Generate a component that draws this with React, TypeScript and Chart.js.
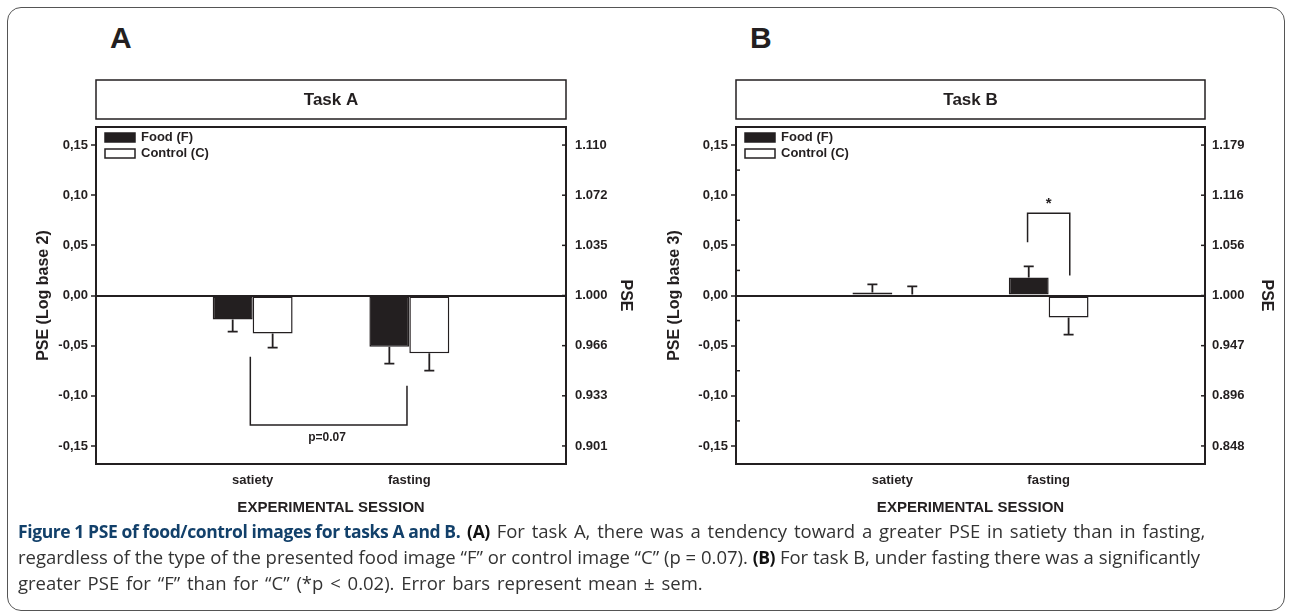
import React, { useEffect, useRef } from 'react';
import { Chart, registerables } from 'chart.js';

Chart.register(...registerables);

// ---------- data ----------
const CATEGORIES = ['satiety', 'fasting'];
const CATEGORY_POS = [1, 2];
const SERIES = ['Food (F)', 'Control (C)'];

const TASK_A_FOOD = [-0.024, -0.051];
const TASK_A_FOOD_SEM = [0.012, 0.017];
const TASK_A_CONTROL = [-0.038, -0.0575];
const TASK_A_CONTROL_SEM = [0.014, 0.0175];

const TASK_B_FOOD = [0.003, 0.018];
const TASK_B_FOOD_SEM = [0.008, 0.011];
const TASK_B_CONTROL = [0.001, -0.022];
const TASK_B_CONTROL_SEM = [0.008, 0.017];

const Y_TICKS = [0.15, 0.1, 0.05, 0, -0.05, -0.1, -0.15];
const Y_TICK_LABELS = ['0,15', '0,10', '0,05', '0,00', '-0,05', '-0,10', '-0,15'];
const PSE_LABELS_A = ['1.110', '1.072', '1.035', '1.000', '0.966', '0.933', '0.901'];
const PSE_LABELS_B = ['1.179', '1.116', '1.056', '1.000', '0.947', '0.896', '0.848'];
const MINOR_TICKS_B = [0.125, 0.075, 0.025, -0.025, -0.075, -0.125];

// significance brackets: [x left, y left end, x right, y right end, y bar]
const BRACKET_A = [0.985, -0.061, 1.985, -0.09, -0.129];
const BRACKET_A_LABEL = ['p=0.07', 1.475, -0.142];
const BRACKET_B = [1.865, 0.053, 2.135, 0.02, 0.082];
const BRACKET_B_LABEL = ['*', 2.0, 0.091];

const INK = '#231f20';
const FONT = '"Liberation Sans", Arial, Helvetica, sans-serif';

const findIdx = (v: number) => Y_TICKS.findIndex((t) => Math.abs(t - v) < 1e-9);

const decoPlugin = {
  id: 'deco',
  afterDatasetsDraw(chart: any) {
    const ctx = chart.ctx;
    const ys = chart.scales.y;
    ctx.save();
    ctx.strokeStyle = INK;
    ctx.lineWidth = 1.8;
    chart.data.datasets.forEach((ds: any, di: number) => {
      const meta = chart.getDatasetMeta(di);
      meta.data.forEach((bar: any, i: number) => {
        const v = ds.data[i].y;
        const s = ds.sem[i];
        const end = v >= 0 ? v + s : v - s;
        const y1 = ys.getPixelForValue(end);
        ctx.beginPath();
        ctx.moveTo(bar.x, bar.y);
        ctx.lineTo(bar.x, y1);
        ctx.moveTo(bar.x - 5, y1);
        ctx.lineTo(bar.x + 5, y1);
        ctx.stroke();
      });
    });
    ctx.restore();
  },
  afterDraw(chart: any, _args: any, opts: any) {
    const ctx = chart.ctx;
    const a = chart.chartArea;
    const xs = chart.scales.x;
    const ys = chart.scales.y;
    ctx.save();
    ctx.strokeStyle = INK;
    ctx.fillStyle = INK;

    // frame
    ctx.lineWidth = 2;
    ctx.strokeRect(a.left, a.top, a.right - a.left, a.bottom - a.top);

    // task title box
    ctx.lineWidth = 1.5;
    ctx.strokeRect(a.left, a.top - 47, a.right - a.left, 39);
    ctx.font = `bold 17px ${FONT}`;
    ctx.textAlign = 'center';
    ctx.textBaseline = 'middle';
    ctx.fillText(opts.title, (a.left + a.right) / 2, a.top - 27);

    // right axis inward ticks
    ctx.lineWidth = 1.5;
    Y_TICKS.forEach((t) => {
      const py = ys.getPixelForValue(t);
      ctx.beginPath();
      ctx.moveTo(a.right - 4, py);
      ctx.lineTo(a.right, py);
      ctx.stroke();
    });
    // minor inward ticks on left axis
    (opts.minor || []).forEach((t: number) => {
      const py = ys.getPixelForValue(t);
      ctx.beginPath();
      ctx.moveTo(a.left, py);
      ctx.lineTo(a.left + 4, py);
      ctx.stroke();
    });

    // legend
    const lx = a.left + 9;
    chart.data.datasets.forEach((ds: any, di: number) => {
      const ty = a.top + 6 + di * 16;
      ctx.fillStyle = ds.backgroundColor;
      ctx.fillRect(lx, ty, 30, 9);
      ctx.lineWidth = 1.5;
      ctx.strokeStyle = INK;
      ctx.strokeRect(lx, ty, 30, 9);
      ctx.fillStyle = INK;
      ctx.font = `bold 13px ${FONT}`;
      ctx.textAlign = 'left';
      ctx.textBaseline = 'middle';
      ctx.fillText(ds.label, lx + 36, ty + 4.5);
    });

    // bracket
    const b = opts.bracket;
    ctx.lineWidth = 1.5;
    ctx.strokeStyle = INK;
    ctx.beginPath();
    ctx.moveTo(xs.getPixelForValue(b[0]), ys.getPixelForValue(b[1]));
    ctx.lineTo(xs.getPixelForValue(b[0]), ys.getPixelForValue(b[4]));
    ctx.lineTo(xs.getPixelForValue(b[2]), ys.getPixelForValue(b[4]));
    ctx.lineTo(xs.getPixelForValue(b[2]), ys.getPixelForValue(b[3]));
    ctx.stroke();
    const bl = opts.bracketLabel;
    ctx.font = `bold ${bl[0] === '*' ? 15 : 12}px ${FONT}`;
    ctx.textAlign = 'center';
    ctx.textBaseline = 'middle';
    ctx.fillStyle = INK;
    ctx.fillText(bl[0], xs.getPixelForValue(bl[1]), ys.getPixelForValue(bl[2]));
    ctx.restore();
  },
};

type PanelProps = {
  left: number;
  title: string;
  yTitle: string;
  food: number[];
  foodSem: number[];
  control: number[];
  controlSem: number[];
  pse: string[];
  minor?: number[];
  bracket: number[];
  bracketLabel: any[];
  leftWidth: number;
  leftTitlePad: number;
  rightWidth: number;
  rightTitlePad: number;
  rightTickPad: number;
};

function Panel(p: PanelProps) {
  const ref = useRef<HTMLCanvasElement | null>(null);
  useEffect(() => {
    if (!ref.current) return;
    const tickFont = { family: FONT, size: 13, weight: 'bold' as const };
    const chart = new Chart(ref.current, {
      type: 'bar',
      data: {
        datasets: [
          {
            label: SERIES[0],
            data: CATEGORY_POS.map((x, i) => ({ x, y: p.food[i] })),
            backgroundColor: INK,
            borderColor: INK,
            borderWidth: 1.5,
            borderSkipped: false,
            sem: p.foodSem,
          } as any,
          {
            label: SERIES[1],
            data: CATEGORY_POS.map((x, i) => ({ x, y: p.control[i] })),
            backgroundColor: '#ffffff',
            borderColor: INK,
            borderWidth: 1.5,
            borderSkipped: false,
            sem: p.controlSem,
          } as any,
        ],
      },
      options: {
        animation: false,
        responsive: false,
        maintainAspectRatio: false,
        layout: { padding: { top: 57, left: 0, right: 0, bottom: 0 } },
        datasets: { bar: { categoryPercentage: 0.51, barPercentage: 1 } },
        plugins: {
          legend: { display: false },
          tooltip: { enabled: false },
          deco: { title: p.title, minor: p.minor, bracket: p.bracket, bracketLabel: p.bracketLabel },
        } as any,
        scales: {
          x: {
            type: 'linear',
            offset: false,
            min: 0,
            max: 3,
            afterBuildTicks: (s: any) => {
              s.ticks = CATEGORY_POS.map((v) => ({ value: v }));
            },
            afterFit: (s: any) => {
              s.height = 66;
            },
            ticks: {
              callback: (v: any) => CATEGORIES[CATEGORY_POS.indexOf(Number(v))],
              font: tickFont,
              color: INK,
              padding: 9,
              maxRotation: 0,
              autoSkip: false,
            },
            grid: { display: false, drawTicks: false, offset: false },
            border: { display: false },
            title: {
              display: true,
              text: 'EXPERIMENTAL SESSION',
              font: { family: FONT, size: 15, weight: 'bold' },
              color: INK,
              padding: { top: 0, bottom: 13 },
            },
          },
          y: {
            position: 'left',
            min: -0.168,
            max: 0.168,
            afterBuildTicks: (s: any) => {
              s.ticks = Y_TICKS.map((v) => ({ value: v }));
            },
            afterFit: (s: any) => {
              s.width = p.leftWidth;
            },
            ticks: {
              callback: (v: any) => Y_TICK_LABELS[findIdx(Number(v))],
              font: tickFont,
              color: INK,
              padding: 3,
              autoSkip: false,
            },
            grid: {
              color: (c: any) => (c.tick && Math.abs(c.tick.value) < 1e-9 ? INK : 'rgba(0,0,0,0)'),
              lineWidth: 2,
              tickColor: INK,
              tickWidth: 1.5,
              tickLength: 5,
              drawTicks: true,
            },
            border: { display: false },
            title: {
              display: true,
              text: p.yTitle,
              font: { family: FONT, size: 16, weight: 'bold' },
              color: INK,
              padding: { top: p.leftTitlePad, bottom: 0 },
            },
          },
          y2: {
            position: 'right',
            min: -0.168,
            max: 0.168,
            afterBuildTicks: (s: any) => {
              s.ticks = Y_TICKS.map((v) => ({ value: v }));
            },
            afterFit: (s: any) => {
              s.width = p.rightWidth;
            },
            ticks: {
              callback: (v: any) => p.pse[findIdx(Number(v))],
              font: tickFont,
              color: INK,
              padding: p.rightTickPad,
              autoSkip: false,
            },
            grid: { drawOnChartArea: false, drawTicks: false },
            border: { display: false },
            title: {
              display: true,
              text: 'PSE',
              font: { family: FONT, size: 16, weight: 'bold' },
              color: INK,
              padding: { top: p.rightTitlePad, bottom: 0 },
            },
          },
        } as any,
      },
      plugins: [decoPlugin],
    });
    return () => chart.destroy();
  }, []);
  return (
    <canvas
      ref={ref}
      width={645}
      height={460}
      style={{ position: 'absolute', left: p.left, top: 70, width: 645, height: 460 }}
    />
  );
}

export default function App() {
  const letter: React.CSSProperties = {
    position: 'absolute',
    top: 23,
    fontFamily: FONT,
    fontWeight: 'bold',
    fontSize: 30,
    lineHeight: '30px',
    color: INK,
  };
  const boldTag: React.CSSProperties = { color: '#111', fontSize: 17.5, letterSpacing: '-0.4px' };
  return (
    <div
      style={{
        position: 'absolute',
        left: 0,
        top: 0,
        width: 1290,
        height: 615,
        background: '#ffffff',
        overflow: 'hidden',
      }}
    >
      <div style={{ ...letter, left: 110 }}>A</div>
      <div style={{ ...letter, left: 750 }}>B</div>
      <Panel
        left={0}
        title="Task A"
        yTitle="PSE (Log base 2)"
        food={TASK_A_FOOD}
        foodSem={TASK_A_FOOD_SEM}
        control={TASK_A_CONTROL}
        controlSem={TASK_A_CONTROL_SEM}
        pse={PSE_LABELS_A}
        bracket={BRACKET_A}
        bracketLabel={BRACKET_A_LABEL}
        leftWidth={96}
        leftTitlePad={34}
        rightWidth={79}
        rightTitlePad={10}
        rightTickPad={9}
      />
      <Panel
        left={645}
        title="Task B"
        yTitle="PSE (Log base 3)"
        food={TASK_B_FOOD}
        foodSem={TASK_B_FOOD_SEM}
        control={TASK_B_CONTROL}
        controlSem={TASK_B_CONTROL_SEM}
        pse={PSE_LABELS_B}
        minor={MINOR_TICKS_B}
        bracket={BRACKET_B}
        bracketLabel={BRACKET_B_LABEL}
        leftWidth={91}
        leftTitlePad={20}
        rightWidth={85}
        rightTitlePad={14}
        rightTickPad={7}
      />
      <div
        style={{
          position: 'absolute',
          left: 18,
          top: 518,
          fontFamily: '"Open Sans", "Noto Sans", sans-serif',
          fontSize: 18.5,
          lineHeight: '26px',
          color: '#333333',
          whiteSpace: 'nowrap',
        }}
      >
        <div style={{ wordSpacing: '2px' }}>
          <span style={{ fontWeight: 'bold', color: '#12406a', fontSize: 17.5, letterSpacing: '-0.4px', wordSpacing: 0 }}>
            Figure 1 PSE of food/control images for tasks A and B.
          </span>{' '}
          <b style={boldTag}>(A)</b> For task A, there was a tendency toward a greater PSE in satiety than in fasting,
        </div>
        <div>
          regardless of the type of the presented food image “F” or control image “C” (p = 0.07).{' '}
          <b style={boldTag}>(B)</b> For task B, under fasting there was a significantly
        </div>
        <div style={{ wordSpacing: '2px' }}>
          greater PSE for “F” than for “C” (*p &lt; 0.02). Error bars represent mean ± sem.
        </div>
      </div>
      <div
        style={{
          position: 'absolute',
          left: 7,
          top: 7,
          width: 1276,
          height: 602,
          border: '1.5px solid #555',
          borderRadius: 14,
          pointerEvents: 'none',
        }}
      />
    </div>
  );
}
